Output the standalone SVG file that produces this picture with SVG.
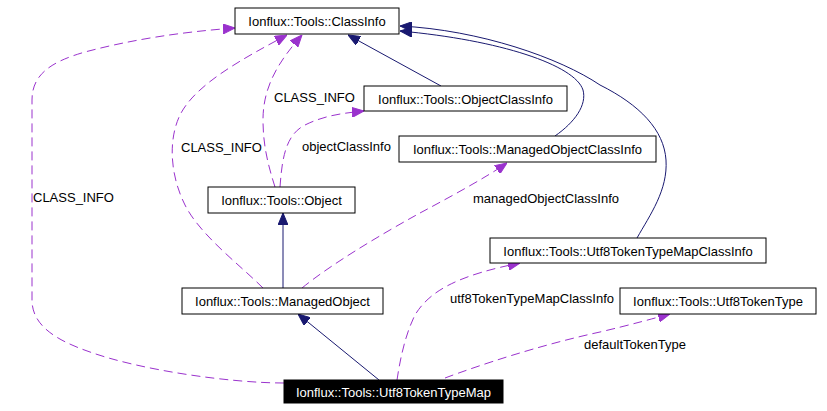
<svg xmlns="http://www.w3.org/2000/svg" width="827" height="411" viewBox="0 0 827 411">
<style>
text{font-family:"Liberation Sans",Arial,sans-serif;font-size:13px;fill:#000}
.node rect{fill:#fff;stroke:#000;stroke-width:1}
.node text{text-anchor:middle}
.node rect.hl{fill:#000;stroke:#000}
.node text.hl{fill:#fff}
.inh{fill:none;stroke:#191970;stroke-width:1}
.use{fill:none;stroke:#9a32cd;stroke-width:1;stroke-dasharray:9,5}
</style>
<defs>
<marker id="an" viewBox="0 0 12 10" refX="12" refY="5" markerWidth="12" markerHeight="10" markerUnits="userSpaceOnUse" orient="auto">
<path d="M0,0 L12,5 L0,10 z" fill="#191970" stroke="#191970"/>
</marker>
<marker id="ap" viewBox="0 0 12 10" refX="12" refY="5" markerWidth="12" markerHeight="10" markerUnits="userSpaceOnUse" orient="auto">
<path d="M0,0 L12,5 L0,10 z" fill="#9a32cd" stroke="#9a32cd"/>
</marker>
</defs>
<rect width="827" height="411" fill="#fff"/>
<g id="connectors">
<path class="inh" marker-end="url(#an)" d="M441,86 L348,35"/>
<path class="inh" marker-end="url(#an)" d="M555,136 C575,122 587,105 583,90 C575,65 500,40 400,31"/>
<path class="inh" marker-end="url(#an)" d="M637,238 C650,215 668,190 666,160 C664,130 640,105 600,85 C560,58 480,30 400,26"/>
<path class="inh" marker-end="url(#an)" d="M283,288 L283,213"/>
<path class="inh" marker-end="url(#an)" d="M379,380 L298,314"/>
<path class="use" marker-end="url(#ap)" d="M284,383 C230,383 140,370 90,352 C55,340 32,325 32,300 L32,100 C32,75 50,62 85,52 C130,40 180,32 235,28"/>
<path class="use" marker-end="url(#ap)" d="M263,288 C240,265 200,235 185,205 C170,175 168,140 180,115 C195,85 240,60 287,35"/>
<path class="use" marker-end="url(#ap)" d="M275,187 C268,165 263,145 263,120 C263,85 280,60 302,35"/>
<path class="use" marker-end="url(#ap)" d="M280,187 C282,160 285,135 305,125 C325,115 345,113 364,111"/>
<path class="use" marker-end="url(#ap)" d="M302,288 C330,265 380,235 420,213 C450,197 485,178 507,163"/>
<path class="use" marker-end="url(#ap)" d="M397,380 C400,360 405,335 415,315 C430,290 460,275 520,263"/>
<path class="use" marker-end="url(#ap)" d="M445,378 C480,365 540,345 600,332 C630,325 655,318 670,314"/>
<text x="274" y="102">CLASS_INFO</text>
<text x="181" y="152">CLASS_INFO</text>
<text x="302" y="151">objectClassInfo</text>
<text x="33" y="202">CLASS_INFO</text>
<text x="473" y="203">managedObjectClassInfo</text>
<text x="450" y="303">utf8TokenTypeMapClassInfo</text>
<text x="584" y="349">defaultTokenType</text>
</g>
<g id="ClassInfo" class="node"><rect x="235" y="8" width="164" height="26"/><text x="317" y="26">Ionflux::Tools::ClassInfo</text></g>
<g id="ObjectClassInfo" class="node"><rect x="364" y="86" width="203" height="25"/><text x="465.5" y="103.5">Ionflux::Tools::ObjectClassInfo</text></g>
<g id="ManagedObjectClassInfo" class="node"><rect x="399" y="136" width="257" height="26"/><text x="527.5" y="154">Ionflux::Tools::ManagedObjectClassInfo</text></g>
<g id="Object" class="node"><rect x="208" y="187" width="147" height="26"/><text x="281.5" y="205">Ionflux::Tools::Object</text></g>
<g id="Utf8TokenTypeMapClassInfo" class="node"><rect x="490" y="238" width="276" height="25"/><text x="628" y="255.5">Ionflux::Tools::Utf8TokenTypeMapClassInfo</text></g>
<g id="ManagedObject" class="node"><rect x="182" y="288" width="201" height="26"/><text x="282.5" y="306">Ionflux::Tools::ManagedObject</text></g>
<g id="Utf8TokenType" class="node"><rect x="620" y="288" width="196" height="26"/><text x="718" y="306">Ionflux::Tools::Utf8TokenType</text></g>
<g id="Utf8TokenTypeMap" class="node"><rect class="hl" x="284" y="380" width="219" height="23"/><text class="hl" x="393.5" y="396.5">Ionflux::Tools::Utf8TokenTypeMap</text></g>
</svg>
